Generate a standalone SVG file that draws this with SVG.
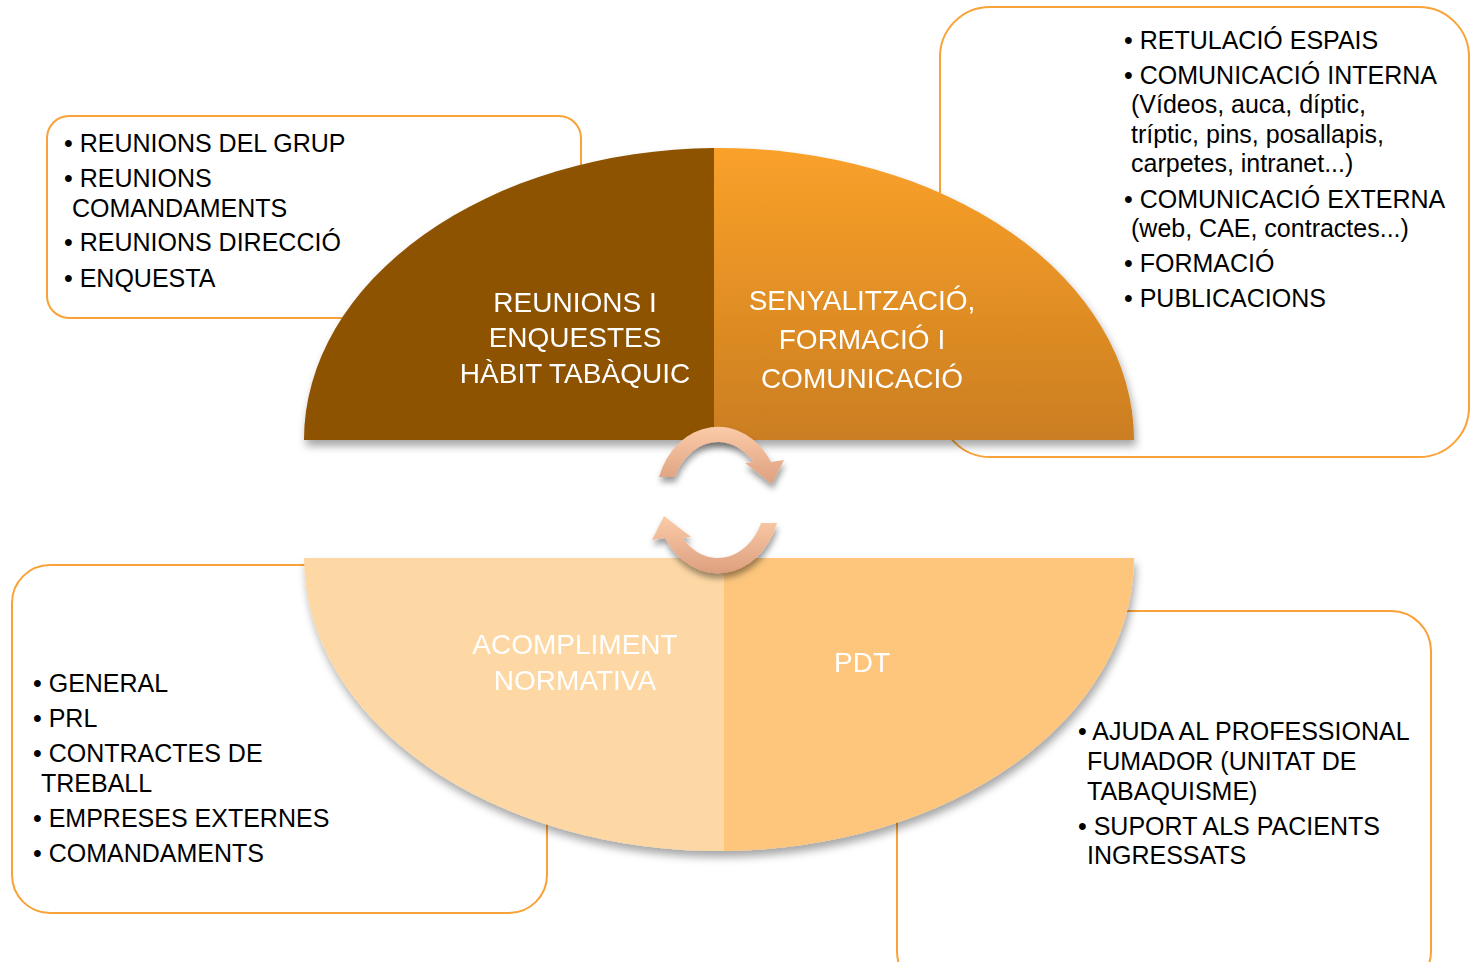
<svg xmlns="http://www.w3.org/2000/svg" width="1470" height="962" viewBox="0 0 1470 962">
<defs>
<style>
.box{fill:#fff;stroke:#F8A237;stroke-width:2}
.t{font-family:"Liberation Sans",Arial,sans-serif;font-size:25px;fill:#000}
.q{font-family:"Liberation Sans",Arial,sans-serif;font-size:28px;fill:#fff;text-anchor:middle}
</style>
<linearGradient id="gOr" x1="0" y1="0" x2="0" y2="1">
<stop offset="0" stop-color="#FAA12A"/>
<stop offset="1" stop-color="#CB7E20"/>
</linearGradient>
<linearGradient id="gAr" x1="0" y1="0" x2="0" y2="1">
<stop offset="0" stop-color="#FBCBA8"/>
<stop offset="1" stop-color="#DDA07F"/>
</linearGradient>
<linearGradient id="gAr2" x1="0" y1="1" x2="0" y2="0">
<stop offset="0" stop-color="#FBCBA8"/>
<stop offset="1" stop-color="#DDA07F"/>
</linearGradient>
<filter id="sh" x="-10%" y="-10%" width="120%" height="130%">
<feDropShadow dx="2" dy="6" stdDeviation="4" flood-color="#000" flood-opacity="0.35"/>
</filter>
<filter id="sh2" x="-30%" y="-30%" width="160%" height="180%">
<feDropShadow dx="1" dy="5" stdDeviation="3" flood-color="#000" flood-opacity="0.4"/>
</filter>
</defs>

<g id="box-reunions">
<rect class="box" x="47" y="116" width="534" height="202" rx="22"/>
<text class="t" x="64" y="152">• REUNIONS DEL GRUP</text>
<text class="t" x="64" y="187">• REUNIONS</text>
<text class="t" x="72" y="217">COMANDAMENTS</text>
<text class="t" x="64" y="251">• REUNIONS DIRECCIÓ</text>
<text class="t" x="64" y="287">• ENQUESTA</text>
</g>

<g id="box-senyalitzacio">
<rect class="box" x="940" y="7" width="529" height="450" rx="50"/>
<text class="t" x="1124" y="49">• RETULACIÓ ESPAIS</text>
<text class="t" x="1124" y="84">• COMUNICACIÓ INTERNA</text>
<text class="t" x="1131" y="113">(Vídeos, auca, díptic,</text>
<text class="t" x="1131" y="143">tríptic, pins, posallapis,</text>
<text class="t" x="1131" y="172">carpetes, intranet...)</text>
<text class="t" x="1124" y="208">• COMUNICACIÓ EXTERNA</text>
<text class="t" x="1131" y="237">(web, CAE, contractes...)</text>
<text class="t" x="1124" y="272">• FORMACIÓ</text>
<text class="t" x="1124" y="307">• PUBLICACIONS</text>
</g>

<g id="box-normativa">
<rect class="box" x="12" y="565" width="535" height="348" rx="38"/>
<text class="t" x="33" y="692">• GENERAL</text>
<text class="t" x="33" y="727">• PRL</text>
<text class="t" x="33" y="762">• CONTRACTES DE</text>
<text class="t" x="41" y="792">TREBALL</text>
<text class="t" x="33" y="827">• EMPRESES EXTERNES</text>
<text class="t" x="33" y="862">• COMANDAMENTS</text>
</g>

<g id="box-pdt">
<rect class="box" x="897" y="611" width="534" height="380" rx="40"/>
<text class="t" x="1078" y="740">• AJUDA AL PROFESSIONAL</text>
<text class="t" x="1087" y="770">FUMADOR (UNITAT DE</text>
<text class="t" x="1087" y="800">TABAQUISME)</text>
<text class="t" x="1078" y="835">• SUPORT ALS PACIENTS</text>
<text class="t" x="1087" y="864">INGRESSATS</text>
</g>

<g id="pie-top" filter="url(#sh)">
<g id="q-reunions">
<path d="M304,440 A415,292 0 0 1 714,148 L714,440 Z" fill="#8E5200"/>
<text class="q" x="575" y="312">REUNIONS I</text>
<text class="q" x="575" y="347">ENQUESTES</text>
<text class="q" x="575" y="383">HÀBIT TABÀQUIC</text>
</g>
<g id="q-senyalitzacio">
<path d="M714,148 A415,292 0 0 1 1134,440 L714,440 Z" fill="url(#gOr)"/>
<text class="q" x="862" y="310">SENYALITZACIÓ,</text>
<text class="q" x="862" y="349">FORMACIÓ I</text>
<text class="q" x="862" y="388">COMUNICACIÓ</text>
</g>
</g>

<g id="pie-bottom" filter="url(#sh)">
<g id="q-normativa">
<path d="M304,558 L724,558 L724,851 A415,293 0 0 1 304,558 Z" fill="#FDD8A4"/>
<text class="q" x="575" y="654">ACOMPLIMENT</text>
<text class="q" x="575" y="690">NORMATIVA</text>
</g>
<g id="q-pdt">
<path d="M724,558 L1134,558 A415,293 0 0 1 724,851 Z" fill="#FDC67C"/>
<text class="q" x="862" y="672">PDT</text>
</g>
</g>

<g id="connectors" filter="url(#sh2)">
<path d="M659,477 A62,73 0 0 1 771,462 L784,460 L772,484 L745,463 L753.5,462 A47,58 0 0 0 674.9,477 Z" fill="url(#gAr)"/>
<path d="M659,477 A62,73 0 0 1 771,462 L784,460 L772,484 L745,463 L753.5,462 A47,58 0 0 0 674.9,477 Z" fill="url(#gAr2)" transform="rotate(180 718 500)"/>
</g>
</svg>
